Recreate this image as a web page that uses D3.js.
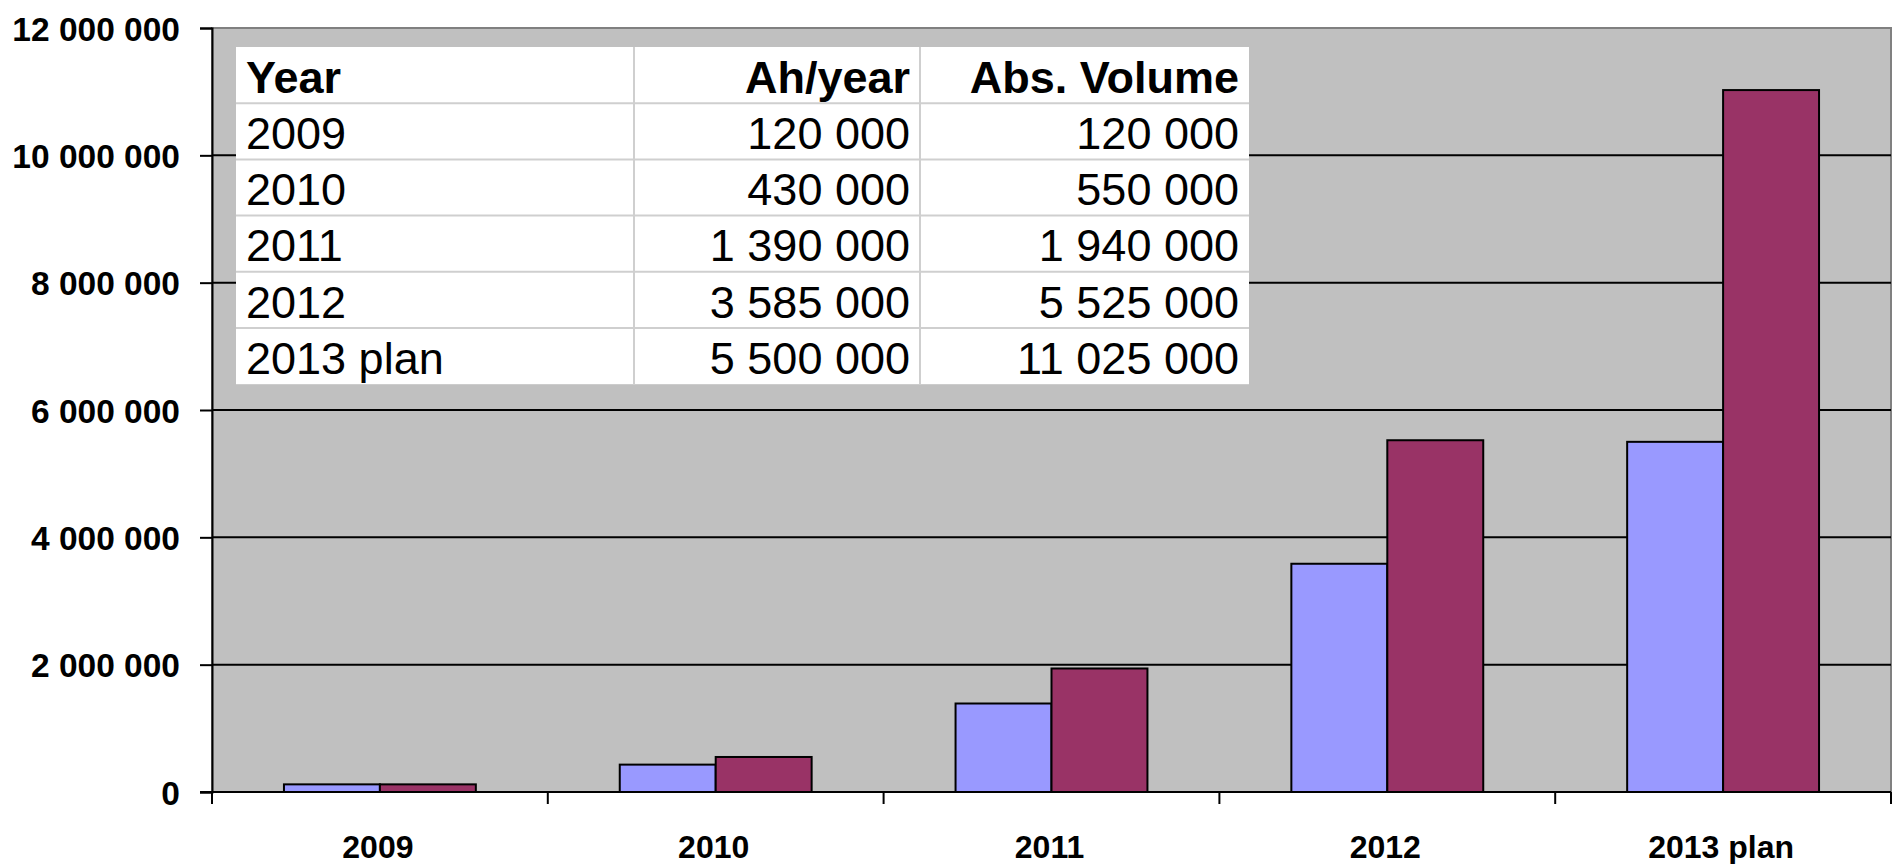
<!DOCTYPE html>
<meta charset="utf-8">
<style>
    body {
        margin: 0;
        background: #fff;
        font-family: "Liberation Sans", Arial, sans-serif;
    }

    .axis text {
        font-size: 32px;
        font-weight: bold;
        fill: #000;
    }

    .cell text {
        font-size: 45px;
        fill: #000;
    }
</style>

<body>
    <script src="https://cdn.jsdelivr.net/npm/d3@7"></script>

    <script>

        // chart values
        var years = ["2009", "2010", "2011", "2012", "2013 plan"];
        var ahPerYear = [120000, 430000, 1390000, 3585000, 5500000];
        var absVolume = [120000, 550000, 1940000, 5525000, 11025000];
        var seriesNames = ["Ah/year", "Abs. Volume"];
        var yTicks = [0, 2000000, 4000000, 6000000, 8000000, 10000000, 12000000];

        var colors = ["#9999ff", "#993366"];

        var width = 1892,
            height = 864,
            margin = { top: 28, right: 1, bottom: 72, left: 212 };

        var fmt = d3.formatLocale({ decimal: ",", thousands: " ", grouping: [3], currency: ["", ""] }).format(",d");

        var svg = d3.select("body").append("svg")
            .attr("width", width)
            .attr("height", height);

        var x = d3.scaleBand()
            .domain(years)
            .range([margin.left, width - margin.right]);

        // excel style: gap width 150% of a bar
        var x1 = d3.scaleBand()
            .domain(seriesNames)
            .range([0, x.bandwidth()])
            .paddingOuter(0.75);

        var y = d3.scaleLinear()
            .domain([0, 12000000])
            .range([height - margin.bottom, margin.top]);

        // plot area
        svg.append("rect")
            .attr("x", margin.left)
            .attr("y", margin.top)
            .attr("width", width - margin.right - margin.left)
            .attr("height", y(0) - margin.top)
            .attr("fill", "#c0c0c0")
            .attr("stroke", "#808080")
            .attr("stroke-width", 2);

        // gridlines
        svg.append("g")
            .selectAll("line")
            .data(yTicks.filter(function (d) { return d > 0 && d < 12000000; }))
            .enter().append("line")
            .attr("x1", margin.left)
            .attr("x2", width - margin.right)
            .attr("y1", function (d) { return y(d); })
            .attr("y2", function (d) { return y(d); })
            .attr("stroke", "#000")
            .attr("stroke-width", 2);

        // bars
        var rows = years.map(function (yr, i) {
            return { year: yr, values: [ahPerYear[i], absVolume[i]] };
        });

        svg.append("g")
            .selectAll("g")
            .data(rows)
            .enter().append("g")
            .attr("transform", function (d) { return "translate(" + x(d.year) + ",0)"; })
            .selectAll("rect")
            .data(function (d) { return d.values.map(function (v, j) { return { key: seriesNames[j], value: v, j: j }; }); })
            .enter().append("rect")
            .attr("x", function (d) { return x1(d.key); })
            .attr("width", x1.bandwidth())
            .attr("y", function (d) { return y(d.value); })
            .attr("height", function (d) { return y(0) - y(d.value); })
            .attr("fill", function (d) { return colors[d.j]; })
            .attr("stroke", "#000")
            .attr("stroke-width", 2);

        // y axis
        var yAxis = svg.append("g")
            .attr("class", "axis")
            .attr("transform", "translate(" + margin.left + ",0)")
            .call(d3.axisLeft(y).tickValues(yTicks).tickFormat(fmt).tickSize(12).tickPadding(20));
        yAxis.select(".domain").attr("stroke", "#000").attr("stroke-width", 2);
        yAxis.selectAll(".tick line").attr("stroke", "#000").attr("stroke-width", 2);
        yAxis.selectAll(".tick text")
            .style("font-family", "'Liberation Sans', Arial, sans-serif")
            .style("font-size", "33.5px")
            .attr("font-size", null)
            .attr("dy", "0.36em");

        // x axis, ticks between categories
        var xAxisG = svg.append("g")
            .attr("class", "axis")
            .attr("transform", "translate(0," + y(0) + ")");
        xAxisG.append("line")
            .attr("x1", margin.left - 12)
            .attr("x2", width - margin.right)
            .attr("stroke", "#000")
            .attr("stroke-width", 2);
        var bounds = [margin.left].concat(years.map(function (d) { return x(d) + x.bandwidth(); }));
        xAxisG.selectAll(".sep")
            .data(bounds)
            .enter().append("line")
            .attr("class", "sep")
            .attr("x1", function (d) { return d; })
            .attr("x2", function (d) { return d; })
            .attr("y1", 0)
            .attr("y2", 12)
            .attr("stroke", "#000")
            .attr("stroke-width", 2);
        xAxisG.selectAll("text")
            .data(years)
            .enter().append("text")
            .attr("x", function (d) { return x(d) + x.bandwidth() / 2 - 2; })
            .attr("y", 66)
            .attr("text-anchor", "middle")
            .text(function (d) { return d; });

        // data table in the plot
        var tbl = { x: 236, y: 47, rowH: 56.2, cols: [236, 634, 920, 1249] };
        var tableRows = [["Year"].concat(seriesNames)].concat(years.map(function (yr, i) {
            return [yr, fmt(ahPerYear[i]), fmt(absVolume[i])];
        }));

        var table = svg.append("g");
        table.append("rect")
            .attr("x", tbl.cols[0])
            .attr("y", tbl.y)
            .attr("width", tbl.cols[3] - tbl.cols[0])
            .attr("height", tbl.rowH * tableRows.length)
            .attr("fill", "#fff");

        // inner lines
        d3.range(1, tableRows.length).forEach(function (r) {
            table.append("line")
                .attr("x1", tbl.cols[0]).attr("x2", tbl.cols[3])
                .attr("y1", tbl.y + r * tbl.rowH).attr("y2", tbl.y + r * tbl.rowH)
                .attr("stroke", "#cfcfcf").attr("stroke-width", 2);
        });
        [1, 2].forEach(function (c) {
            table.append("line")
                .attr("x1", tbl.cols[c]).attr("x2", tbl.cols[c])
                .attr("y1", tbl.y).attr("y2", tbl.y + tbl.rowH * tableRows.length)
                .attr("stroke", "#cfcfcf").attr("stroke-width", 2);
        });

        table.selectAll("g.cell")
            .data(tableRows)
            .enter().append("g")
            .attr("class", "cell")
            .each(function (row, r) {
                d3.select(this).selectAll("text")
                    .data(row)
                    .enter().append("text")
                    .attr("x", function (d, c) { return c === 0 ? tbl.cols[0] + 10 : tbl.cols[c + 1] - 10; })
                    .attr("y", tbl.y + (r + 1) * tbl.rowH - 10.5)
                    .attr("text-anchor", function (d, c) { return c === 0 ? "start" : "end"; })
                    .attr("font-weight", r === 0 ? "bold" : null)
                    .text(function (d) { return d; });
            });

    </script>

</body>

</html>
